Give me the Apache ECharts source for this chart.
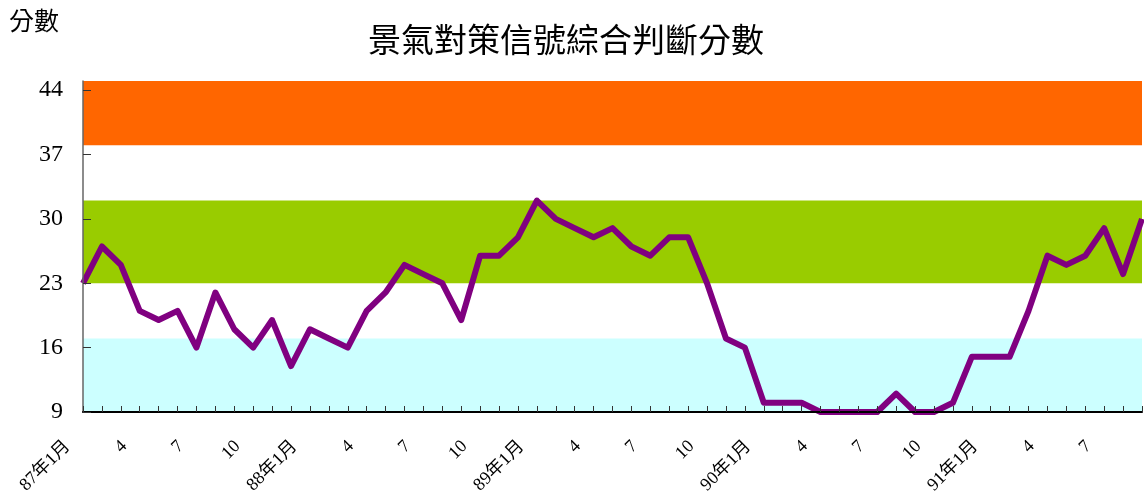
<!DOCTYPE html>
<html>
<head>
<meta charset="utf-8">
<script src="https://cdn.jsdelivr.net/npm/echarts@6/dist/echarts.min.js"></script>
<style>html,body{margin:0;padding:0;background:#fff;}#c{width:1144px;height:498px;}</style>
</head>
<body>
<div id="c"></div>
<script>
const years = ['87', '88', '89', '90', '91'];
const months = [];
for (const y of years) for (let m = 1; m <= 12; m++) months.push(m === 1 ? y + '年1月' : String(m));
const categories = months.slice(0, 57);
const scores = [
  23, 27, 25, 20, 19, 20, 16, 22, 18, 16, 19, 14,
  18, 17, 16, 20, 22, 25, 24, 23, 19, 26, 26, 28,
  32, 30, 29, 28, 29, 27, 26, 28, 28, 23, 17, 16,
  10, 10, 10, 9, 9, 9, 9, 11, 9, 9, 10, 15,
  15, 15, 20, 26, 25, 26, 29, 24, 30
];
const bandRed = [38, 45];
const bandGreen = [23, 32];
const bandBlue = [9, 17];
const yTicks = [9, 16, 23, 30, 37, 44];

const serif = '"Liberation Serif", "Times New Roman", "Noto Sans CJK TC", serif';
const chart = echarts.init(document.getElementById('c'));
chart.setOption({
  animation: false,
  backgroundColor: '#ffffff',
  title: {
    text: '景氣對策信號綜合判斷分數',
    left: 561, top: 18, textAlign: 'center',
    textStyle: { fontFamily: '"Noto Sans CJK TC", serif', fontSize: 33, fontWeight: 'normal', color: '#000' }
  },
  graphic: [{
    type: 'text', left: 9, top: 8,
    style: { text: '分數', font: 'normal 25px "Noto Sans CJK TC", serif', fill: '#000' }
  }],
  grid: { left: 83, right: 2, top: 81, bottom: 86, containLabel: false, outerBoundsMode: 'none' },
  xAxis: {
    type: 'category', data: categories, boundaryGap: false, z: 10,
    axisLine: { lineStyle: { color: '#000', width: 2 } },
    axisTick: { inside: true, length: 6, interval: 0, lineStyle: { color: '#333' } },
    axisLabel: {
      interval: 2, rotate: 45, margin: 16, padding: [0, 22, 0, 0],
      fontFamily: serif, fontSize: 18, color: '#000'
    },
    splitLine: { show: false }
  },
  yAxis: {
    type: 'value', min: yTicks[0], max: 45, interval: 7, z: 10,
    axisLine: { show: true, lineStyle: { color: '#666', width: 1.5 } },
    axisTick: { show: true, inside: true, length: 8, lineStyle: { color: '#333' } },
    axisLabel: { fontFamily: serif, fontSize: 24, color: '#000', margin: 20, showMaxLabel: false },
    splitLine: { show: false }
  },
  series: [{
    type: 'line', data: scores, symbol: 'none',
    lineStyle: { color: '#800080', width: 6, join: 'round' },
    z: 5,
    markArea: {
      silent: true,
      data: [
        [{ yAxis: bandRed[0], itemStyle: { color: '#FF6600' } }, { yAxis: bandRed[1] }],
        [{ yAxis: bandGreen[0], itemStyle: { color: '#99CC00' } }, { yAxis: bandGreen[1] }],
        [{ yAxis: bandBlue[0], itemStyle: { color: '#CCFFFF' } }, { yAxis: bandBlue[1] }]
      ]
    }
  }]
});
</script>
</body>
</html>
